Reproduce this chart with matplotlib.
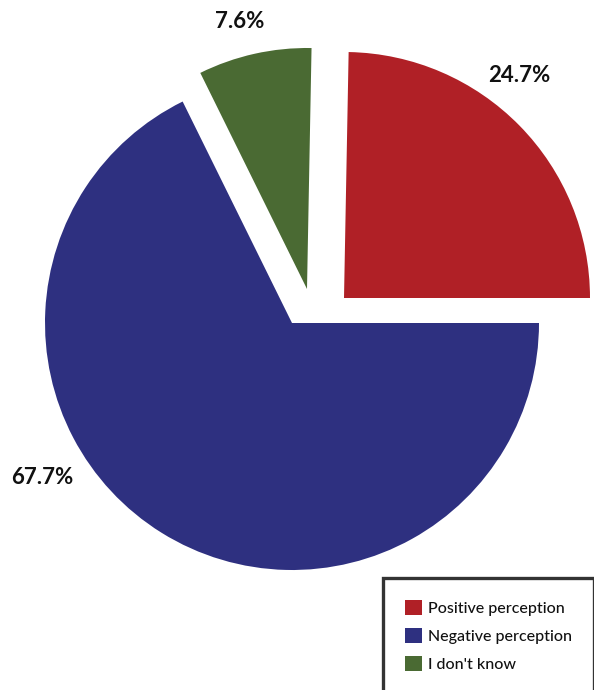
import matplotlib.pyplot as plt

# data
categories = ["Positive perception", "Negative perception", "I don't know"]
shares = [24.7, 67.7, 7.6]
colors = ["#B02026", "#2E3080", "#4A6A33"]

# layout, in pixels of a 594 x 690 canvas (y pointing up)
W, H = 594, 690
pie_center = (292, 367)
pie_radius = 247
# apex of each slice after it is pulled out of the pie
slice_centers = [(344, 392), (292, 367), (307, 401)]
slice_radii = [246, 247, 241]
label_xy = [(519, 615), (42, 213), (240, 669)]

plt.rcParams["font.family"] = ["Lato", "DejaVu Sans"]

fig = plt.figure(figsize=(W / 100, H / 100), dpi=100)
ax = fig.add_axes([0, 0, 1, 1])

wedges, _ = ax.pie(
    shares,
    colors=colors,
    startangle=360 * shares[0] / 100,
    counterclock=False,
    center=pie_center,
    radius=pie_radius,
    wedgeprops=dict(linewidth=0),
)

for w, c, r in zip(wedges, slice_centers, slice_radii):
    w.set_center(c)
    w.set_radius(r)

for val, (x, y) in zip(shares, label_xy):
    ax.text(x, y, f"{val}%", ha="center", va="center",
            fontsize=16, fontweight="bold", color="#111111")

ax.set_xlim(0, W)
ax.set_ylim(0, H)
ax.set_aspect("auto")
ax.axis("off")

leg = ax.legend(
    wedges,
    categories,
    loc="upper left",
    bbox_to_anchor=(383 / W, 1 - 578 / H),
    bbox_transform=fig.transFigure,
    borderaxespad=0,
    prop=dict(size=11.5, weight="medium"),
    frameon=True,
    fancybox=False,
    handlelength=1.05,
    handleheight=1.05,
    handletextpad=0.35,
    labelspacing=0.76,
    borderpad=1.4,
)
frame = leg.get_frame()
frame.set_edgecolor("black")
frame.set_linewidth(2.4)
frame.set_facecolor("white")
for t in leg.get_texts():
    t.set_color("#111111")

fig.savefig("out.png", dpi=100)
